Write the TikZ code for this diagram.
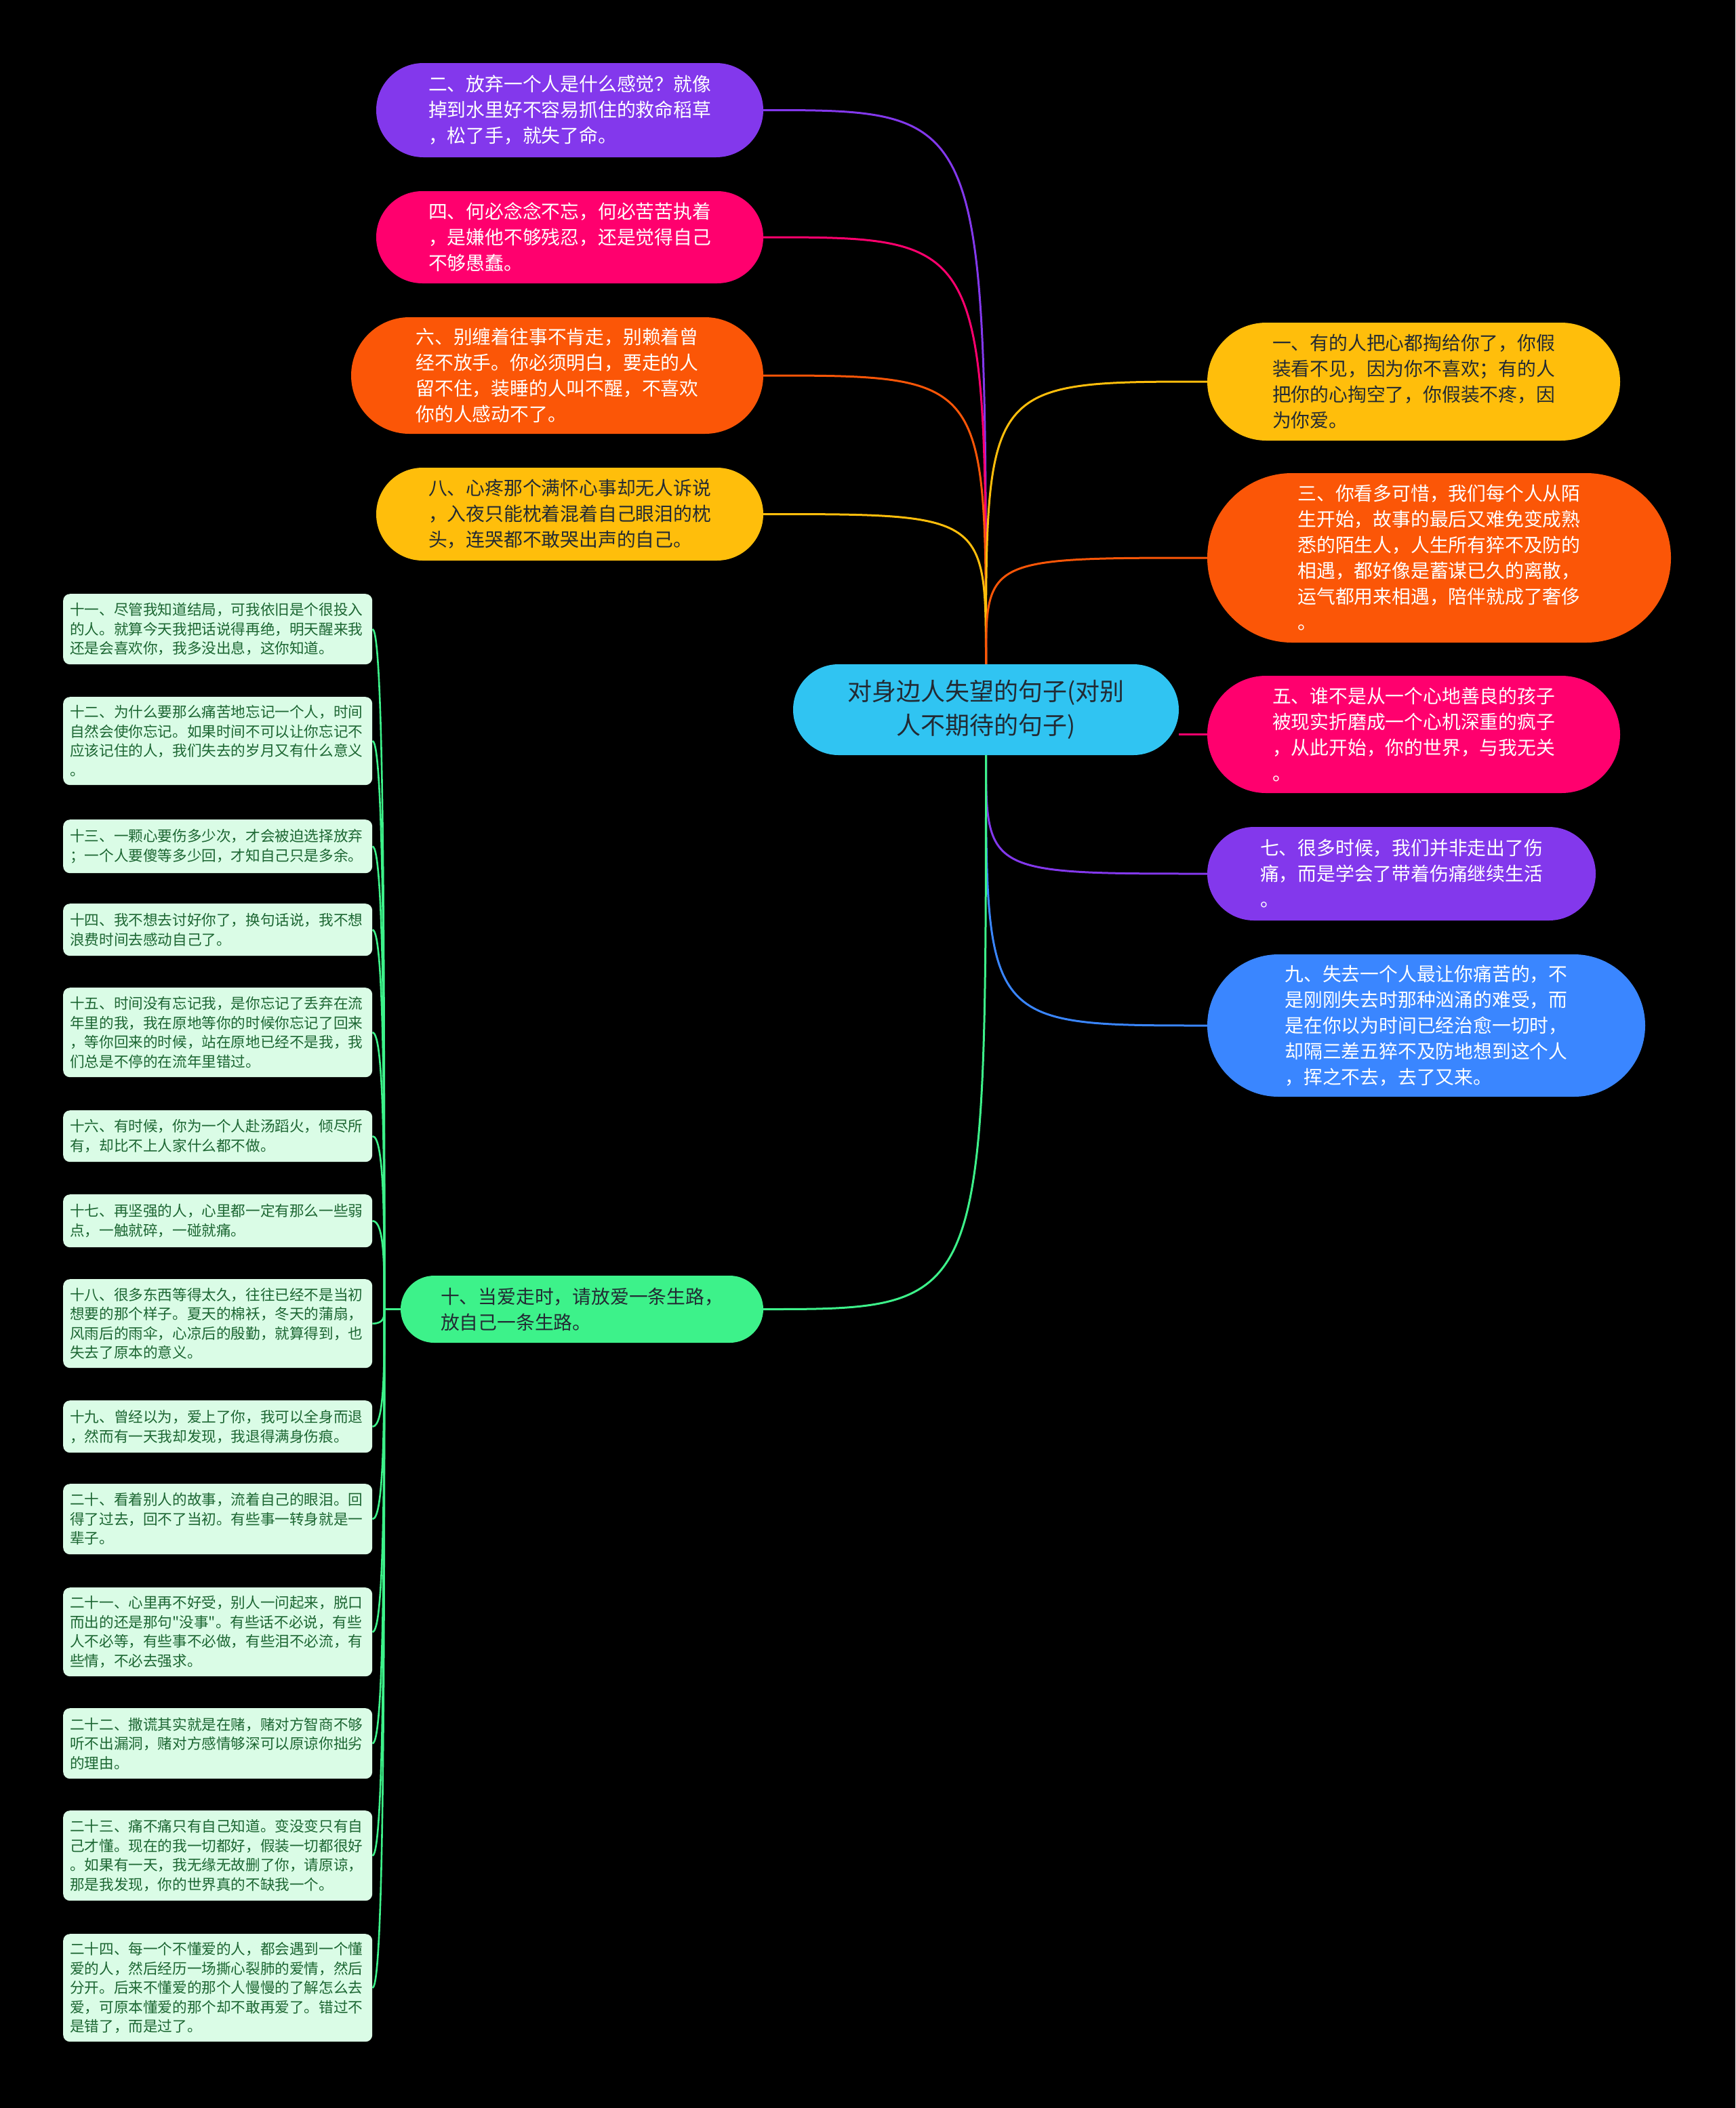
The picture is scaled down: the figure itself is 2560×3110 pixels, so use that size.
\documentclass[tikz,border=0pt]{standalone}
\usepackage{fontspec}
\setmainfont{Noto Sans CJK SC}[Ligatures=TeXOff]
\usetikzlibrary{calc}
\definecolor{cpurple}{HTML}{8338EC}
\definecolor{cpink}{HTML}{FF006E}
\definecolor{corange}{HTML}{FB5607}
\definecolor{cyellow}{HTML}{FFBE0B}
\definecolor{cblue}{HTML}{3A86FF}
\definecolor{ccenter}{HTML}{30C4F2}
\definecolor{cgreen}{HTML}{3DF28A}
\definecolor{leaffill}{HTML}{DAFCE6}
\definecolor{leaftext}{HTML}{1C6632}
\definecolor{darktext}{HTML}{222A33}
\begin{document}
\begin{tikzpicture}[x=1pt,y=-1pt,
  mainnode/.style={inner sep=0pt, align=left, font=\fontsize{27.8}{38}\selectfont},
  lighttext/.style={text=white},
  darkt/.style={text=darktext},
  leaf/.style={fill=leaffill, text=leaftext, rounded corners=10pt, anchor=north west,
    inner xsep=10pt, inner ysep=0pt, text width=436pt, align=left,
    font=\fontsize{21.6}{28.5}\selectfont},
  link/.style={line width=3pt},
  leaflink/.style={draw=cgreen, line width=2.6pt}]
\useasboundingbox (0,0) rectangle (2560,3110);
\fill[black] (0,0) rectangle (2560,3110);

% center
\node[mainnode, align=center, fill=ccenter, text=darktext, minimum width=569pt, minimum height=134pt,
  rounded corners=67pt, font=\fontsize{36}{50}\selectfont] (C) at (1454.5,1047)
  {对身边人失望的句子(对别\\人不期待的句子)};

% left top
\node[mainnode, fill=cpurple, lighttext, minimum width=571pt, minimum height=139pt, rounded corners=69.5pt]
  (n2) at (840.5,162.5) {二、放弃一个人是什么感觉？就像\\掉到水里好不容易抓住的救命稻草\\，松了手，就失了命。};
\node[mainnode, fill=cpink, lighttext, minimum width=571pt, minimum height=136pt, rounded corners=68pt]
  (n4) at (840.5,350) {四、何必念念不忘，何必苦苦执着\\，是嫌他不够残忍，还是觉得自己\\不够愚蠢。};
\node[mainnode, fill=corange, lighttext, minimum width=608pt, minimum height=172pt, rounded corners=86pt]
  (n6) at (822,554) {六、别缠着往事不肯走，别赖着曾\\经不放手。你必须明白，要走的人\\留不住，装睡的人叫不醒，不喜欢\\你的人感动不了。};
\node[mainnode, fill=cyellow, darkt, minimum width=571pt, minimum height=137pt, rounded corners=68.5pt]
  (n8) at (840.5,758.5) {八、心疼那个满怀心事却无人诉说\\，入夜只能枕着混着自己眼泪的枕\\头，连哭都不敢哭出声的自己。};

% right
\node[mainnode, fill=cyellow, darkt, minimum width=609pt, minimum height=174pt, rounded corners=87pt]
  (n1) at (2085.5,563) {一、有的人把心都掏给你了，你假\\装看不见，因为你不喜欢；有的人\\把你的心掏空了，你假装不疼，因\\为你爱。};
\node[mainnode, fill=corange, lighttext, minimum width=684pt, minimum height=250pt, rounded corners=125pt]
  (n3) at (2123,823) {三、你看多可惜，我们每个人从陌\\生开始，故事的最后又难免变成熟\\悉的陌生人，人生所有猝不及防的\\相遇，都好像是蓄谋已久的离散，\\运气都用来相遇，陪伴就成了奢侈\\。};
\node[mainnode, fill=cpink, lighttext, minimum width=609pt, minimum height=173pt, rounded corners=86.5pt]
  (n5) at (2085.5,1083.5) {五、谁不是从一个心地善良的孩子\\被现实折磨成一个心机深重的疯子\\，从此开始，你的世界，与我无关\\。};
\node[mainnode, fill=cpurple, lighttext, minimum width=573pt, minimum height=138pt, rounded corners=69pt]
  (n7) at (2067.5,1289) {七、很多时候，我们并非走出了伤\\痛，而是学会了带着伤痛继续生活\\。};
\node[mainnode, fill=cblue, lighttext, minimum width=646pt, minimum height=210pt, rounded corners=105pt]
  (n9) at (2104,1513) {九、失去一个人最让你痛苦的，不\\是刚刚失去时那种汹涌的难受，而\\是在你以为时间已经治愈一切时，\\却隔三差五猝不及防地想到这个人\\，挥之不去，去了又来。};

% ten
\node[mainnode, fill=cgreen, darkt, minimum width=535pt, minimum height=99pt, rounded corners=49.5pt]
  (n10) at (858.5,1931.5) {十、当爱走时，请放爱一条生路，\\放自己一条生路。};

% connectors from center
\draw[link, cpurple] (C.north) .. controls (C.north |- n2.east) .. (n2.east);
\draw[link, cpink] (C.north) .. controls (C.north |- n4.east) .. (n4.east);
\draw[link, corange] (C.north) .. controls (C.north |- n6.east) .. (n6.east);
\draw[link, cyellow] (C.north) .. controls (C.north |- n8.east) .. (n8.east);
\draw[link, cyellow] (C.north) .. controls (C.north |- n1.west) .. (n1.west);
\draw[link, corange] (C.north) .. controls (C.north |- n3.west) .. (n3.west);
\draw[link, cpink] (C.east |- n5.west) -- (n5.west);
\draw[link, cpurple] (C.south) .. controls (C.south |- n7.west) .. (n7.west);
\draw[link, cblue] (C.south) .. controls (C.south |- n9.west) .. (n9.west);
\draw[link, cgreen] (C.south) .. controls (C.south |- n10.east) .. (n10.east);

% leaves
\node[leaf, minimum height=104pt] (l11) at (93,876) {十一、尽管我知道结局，可我依旧是个很投入\\的人。就算今天我把话说得再绝，明天醒来我\\还是会喜欢你，我多没出息，这你知道。};
\node[leaf, minimum height=130pt] (l12) at (93,1028) {十二、为什么要那么痛苦地忘记一个人，时间\\自然会使你忘记。如果时间不可以让你忘记不\\应该记住的人，我们失去的岁月又有什么意义\\。};
\node[leaf, minimum height=79pt] (l13) at (93,1209) {十三、一颗心要伤多少次，才会被迫选择放弃\\；一个人要傻等多少回，才知自己只是多余。};
\node[leaf, minimum height=77pt] (l14) at (93,1333) {十四、我不想去讨好你了，换句话说，我不想\\浪费时间去感动自己了。};
\node[leaf, minimum height=132pt] (l15) at (93,1457) {十五、时间没有忘记我，是你忘记了丢弃在流\\年里的我，我在原地等你的时候你忘记了回来\\，等你回来的时候，站在原地已经不是我，我\\们总是不停的在流年里错过。};
\node[leaf, minimum height=76pt] (l16) at (93,1638) {十六、有时候，你为一个人赴汤蹈火，倾尽所\\有，却比不上人家什么都不做。};
\node[leaf, minimum height=78pt] (l17) at (93,1762) {十七、再坚强的人，心里都一定有那么一些弱\\点，一触就碎，一碰就痛。};
\node[leaf, minimum height=131pt] (l18) at (93,1887) {十八、很多东西等得太久，往往已经不是当初\\想要的那个样子。夏天的棉袄，冬天的蒲扇，\\风雨后的雨伞，心凉后的殷勤，就算得到，也\\失去了原本的意义。};
\node[leaf, minimum height=77pt] (l19) at (93,2066) {十九、曾经以为，爱上了你，我可以全身而退\\，然而有一天我却发现，我退得满身伤痕。};
\node[leaf, minimum height=104pt] (l20) at (93,2189) {二十、看着别人的故事，流着自己的眼泪。回\\得了过去，回不了当初。有些事一转身就是一\\辈子。};
\node[leaf, minimum height=131pt] (l21) at (93,2342) {二十一、心里再不好受，别人一问起来，脱口\\而出的还是那句"没事"。有些话不必说，有些\\人不必等，有些事不必做，有些泪不必流，有\\些情，不必去强求。};
\node[leaf, minimum height=104pt] (l22) at (93,2520) {二十二、撒谎其实就是在赌，赌对方智商不够\\听不出漏洞，赌对方感情够深可以原谅你拙劣\\的理由。};
\node[leaf, minimum height=133pt] (l23) at (93,2671) {二十三、痛不痛只有自己知道。变没变只有自\\己才懂。现在的我一切都好，假装一切都很好\\。如果有一天，我无缘无故删了你，请原谅，\\那是我发现，你的世界真的不缺我一个。};
\node[leaf, minimum height=159pt] (l24) at (93,2853) {二十四、每一个不懂爱的人，都会遇到一个懂\\爱的人，然后经历一场撕心裂肺的爱情，然后\\分开。后来不懂爱的那个人慢慢的了解怎么去\\爱，可原本懂爱的那个却不敢再爱了。错过不\\是错了，而是过了。};

\coordinate (J) at (567,1931.5);
\draw[leaflink] (n10.west) -- (J);
\foreach \l in {l11,l12,l13,l14,l15,l16,l17,l18,l19,l20,l21,l22,l23,l24}{
  \draw[leaflink] (\l.east) .. controls (J |- \l.east) and ($(J)!0.5!(J |- \l.east)$) .. (J);
}
\end{tikzpicture}
\end{document}
